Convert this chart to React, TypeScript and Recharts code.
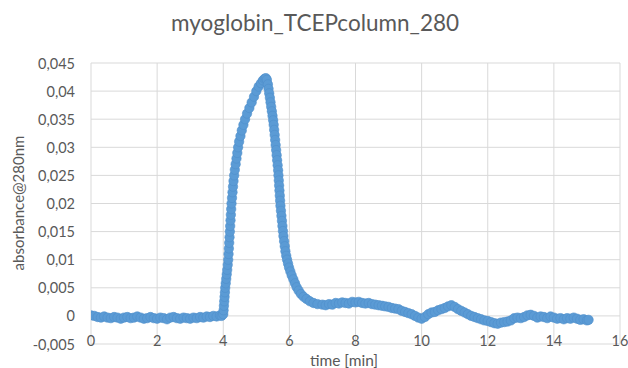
import React from "react";
import { ScatterChart, Scatter, XAxis, YAxis, CartesianGrid } from "recharts";

// ---- data ----
const baselineTimes = [0, 0.1, 0.2, 0.3, 0.4, 0.5, 0.6, 0.7, 0.8, 0.9, 1.0, 1.1, 1.2, 1.3, 1.4, 1.5, 1.6, 1.7, 1.8, 1.9, 2.0, 2.1, 2.2, 2.3, 2.4, 2.5, 2.6, 2.7, 2.8, 2.9, 3.0, 3.1, 3.2, 3.3, 3.4, 3.5, 3.6, 3.7, 3.8, 3.9, 3.95];
const baselineValues = [0.0001, 0.0, -0.0002, -0.0003, -0.0001, -0.0003, -0.0004, -0.0002, -0.0003, -0.0005, -0.0003, -0.0002, -0.0004, -0.0003, -0.0001, -0.0003, -0.0005, -0.0004, -0.0002, -0.0004, -0.0005, -0.0003, -0.0004, -0.0006, -0.0003, -0.0002, -0.0004, -0.0005, -0.0003, -0.0004, -0.0005, -0.0003, -0.0004, -0.0002, -0.0003, -0.0001, -0.0002, 0.0, -0.0001, 0.0001, 0.0];

const riseTimes = [4.0, 4.01, 4.02, 4.03, 4.04, 4.05, 4.06, 4.075, 4.09, 4.105, 4.12, 4.135, 4.15, 4.16, 4.17, 4.18, 4.19, 4.2, 4.21, 4.22, 4.23, 4.24, 4.25, 4.265, 4.28, 4.295, 4.31, 4.33, 4.35, 4.375, 4.4, 4.425, 4.45, 4.48, 4.52, 4.56, 4.61, 4.66, 4.72, 4.79, 4.86, 4.93, 5.0, 5.07, 5.14, 5.2, 5.25, 5.29];
const riseValues = [0.0003, 0.001, 0.0018, 0.0026, 0.0034, 0.0042, 0.005, 0.0058, 0.0066, 0.0074, 0.0082, 0.0091, 0.01, 0.011, 0.012, 0.013, 0.014, 0.015, 0.016, 0.017, 0.018, 0.019, 0.02, 0.021, 0.022, 0.023, 0.024, 0.025, 0.026, 0.027, 0.028, 0.029, 0.03, 0.031, 0.032, 0.033, 0.034, 0.035, 0.036, 0.037, 0.038, 0.039, 0.04, 0.0408, 0.0414, 0.0419, 0.0422, 0.0423];

const fallTimes = [5.32, 5.35, 5.37, 5.39, 5.41, 5.43, 5.45, 5.47, 5.49, 5.51, 5.525, 5.54, 5.555, 5.57, 5.585, 5.6, 5.615, 5.63, 5.645, 5.66, 5.67, 5.68, 5.69, 5.7, 5.71, 5.72, 5.73, 5.745, 5.76, 5.775, 5.79, 5.805, 5.82, 5.84, 5.86, 5.88, 5.905, 5.93, 5.96, 5.99, 6.03, 6.07, 6.12, 6.17, 6.22, 6.28, 6.35, 6.43, 6.52, 6.62, 6.73, 6.85];
const fallValues = [0.042, 0.0412, 0.0404, 0.0396, 0.0388, 0.038, 0.0372, 0.0364, 0.0356, 0.0348, 0.034, 0.0331, 0.0322, 0.0313, 0.0304, 0.0295, 0.0286, 0.0277, 0.0268, 0.0259, 0.025, 0.0241, 0.0232, 0.0223, 0.0214, 0.0205, 0.0196, 0.0187, 0.0178, 0.0169, 0.016, 0.0151, 0.0142, 0.0133, 0.0124, 0.0115, 0.0107, 0.01, 0.0093, 0.0086, 0.0079, 0.0072, 0.0065, 0.0058, 0.0051, 0.0045, 0.0039, 0.0034, 0.003, 0.0026, 0.0023, 0.0021];

const tailTimes = [7.0, 7.1, 7.2, 7.3, 7.4, 7.5, 7.6, 7.7, 7.8, 7.9, 8.0, 8.1, 8.2, 8.3, 8.4, 8.5, 8.6, 8.7, 8.8, 8.9, 9.0, 9.1, 9.2, 9.3, 9.4, 9.5, 9.6, 9.7, 9.8, 9.9, 10.0, 10.1, 10.2, 10.3, 10.4, 10.5, 10.6, 10.7, 10.8, 10.9, 11.0, 11.1, 11.2, 11.3, 11.4, 11.5, 11.6, 11.7, 11.8, 11.9, 12.0, 12.1, 12.2, 12.3, 12.4, 12.5, 12.6, 12.7, 12.8, 12.9, 13.0, 13.1, 13.2, 13.3, 13.4, 13.5, 13.6, 13.7, 13.8, 13.9, 14.0, 14.1, 14.2, 14.3, 14.4, 14.5, 14.6, 14.7, 14.8, 14.9, 15.0, 15.05];
const tailValues = [0.002, 0.0019, 0.0021, 0.002, 0.0023, 0.0022, 0.0024, 0.0023, 0.0022, 0.0025, 0.0024, 0.0025, 0.0023, 0.0022, 0.0023, 0.0021, 0.002, 0.0019, 0.0018, 0.0017, 0.0016, 0.0014, 0.0013, 0.0012, 0.0009, 0.0007, 0.0005, 0.0003, 0.0, -0.0003, -0.0005, -0.0002, 0.0003, 0.0006, 0.0007, 0.001, 0.0012, 0.0014, 0.0017, 0.0019, 0.0016, 0.0012, 0.0009, 0.0006, 0.0003, 0.0, -0.0002, -0.0004, -0.0006, -0.0008, -0.0009, -0.0011, -0.0013, -0.0014, -0.0012, -0.0011, -0.001, -0.0008, -0.0004, -0.0003, -0.0004, -0.0002, 0.0001, 0.0002, 0.0, -0.0003, -0.0001, -0.0002, -0.0004, -0.0001, -0.0003, -0.0005, -0.0004, -0.0006, -0.0004, -0.0005, -0.0003, -0.0005, -0.0007, -0.0006, -0.0008, -0.0007];

const xTicks = [0, 2, 4, 6, 8, 10, 12, 14, 16];
const yTicks = [-0.005, 0, 0.005, 0.01, 0.015, 0.02, 0.025, 0.03, 0.035, 0.04, 0.045];
const yTickLabels = ["-0,005", "0", "0,005", "0,01", "0,015", "0,02", "0,025", "0,03", "0,035", "0,04", "0,045"];

const TITLE = "myoglobin_TCEPcolumn_280";
const X_LABEL = "time [min]";
const Y_LABEL = "absorbance@280nm";

// ---- layout / style ----
const W = 628;
const H = 368;
const FONT = "Lato, 'Open Sans', sans-serif";
const TEXT = "#595959";
const GRID = "#d9d9d9";
const DOT = "#5B9BD5";
const PLOT_BOTTOM = 344;

const zip = (ts: number[], vs: number[]) => ts.map((t, i) => ({ t, v: vs[i] }));
const chartData = [
  ...zip(baselineTimes, baselineValues),
  ...zip(riseTimes, riseValues),
  ...zip(fallTimes, fallValues),
  ...zip(tailTimes, tailValues),
];

const YTick = (props: any) => {
  const { x, y, payload } = props;
  const idx = yTicks.findIndex((v) => Math.abs(v - payload.value) < 1e-9);
  return (
    <text x={x} y={y} textAnchor="end" dominantBaseline="central" fill={TEXT} fontSize={14.5} fontFamily={FONT}>
      {idx >= 0 ? yTickLabels[idx] : String(payload.value)}
    </text>
  );
};

const XTick = (props: any) => {
  const { x, payload } = props;
  return (
    <text x={x} y={PLOT_BOTTOM - 4} textAnchor="middle" dominantBaseline="central" fill={TEXT} fontSize={14.5} fontFamily={FONT}>
      {String(payload.value)}
    </text>
  );
};

const Dot = (props: any) => (
  <circle cx={props.cx} cy={props.cy} r={4.7} fill={DOT} stroke="#4f8fcb" strokeWidth={0.6} />
);

export default function App() {
  return (
    <div style={{ position: "absolute", left: 0, top: 0, width: W, height: H, background: "#ffffff" }}>
      <ScatterChart width={W} height={H} margin={{ top: 63, right: 8, bottom: 0, left: 0 }}>
        <CartesianGrid stroke={GRID} strokeWidth={1} />
        <XAxis
          type="number"
          dataKey="t"
          domain={[0, 16]}
          ticks={xTicks}
          interval={0}
          height={24}
          axisLine={false}
          tickLine={false}
          tickSize={0}
          tickMargin={0}
          tick={<XTick />}
          allowDataOverflow
        />
        <YAxis
          type="number"
          dataKey="v"
          domain={[-0.005, 0.045]}
          ticks={yTicks}
          interval={0}
          width={91}
          axisLine={false}
          tickLine={false}
          tickSize={0}
          tickMargin={16}
          tick={<YTick />}
          allowDataOverflow
        />
        <Scatter data={chartData} isAnimationActive={false} shape={<Dot />} />
      </ScatterChart>
      <svg width={W} height={H} style={{ position: "absolute", left: 0, top: 0, pointerEvents: "none" }}>
        <text x={315} y={22} textAnchor="middle" dominantBaseline="central" fill={TEXT} fontSize={22.5} fontFamily={FONT}>
          {TITLE}
        </text>
        <text x={344} y={360} textAnchor="middle" dominantBaseline="central" fill={TEXT} fontSize={15.5} fontFamily={FONT}>
          {X_LABEL}
        </text>
        <text
          x={18}
          y={203}
          textAnchor="middle"
          dominantBaseline="central"
          fill={TEXT}
          fontSize={15}
          fontFamily={FONT}
          transform="rotate(-90 18 203)"
        >
          {Y_LABEL}
        </text>
      </svg>
    </div>
  );
}
